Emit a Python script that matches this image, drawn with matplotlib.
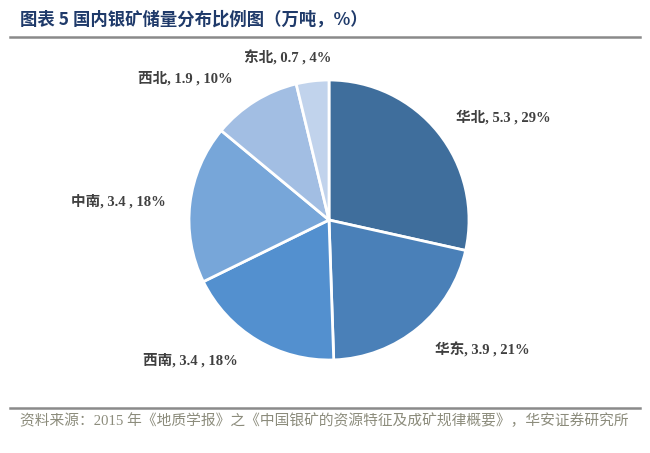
import matplotlib
matplotlib.use("Agg")
import matplotlib.pyplot as plt
from matplotlib.lines import Line2D

regions = ["华北", "华东", "西南", "中南", "西北", "东北"]
reserves = [5.3, 3.9, 3.4, 3.4, 1.9, 0.7]
percents = ["29%", "21%", "18%", "18%", "10%", "4%"]
colors = ["#3f6e9c", "#4a80b8", "#5390cf", "#77a6d9", "#a2bee3", "#c1d3ec"]

title = "图表 5 国内银矿储量分布比例图（万吨，%）"
source = "资料来源：2015 年《地质学报》之《中国银矿的资源特征及成矿规律概要》，华安证券研究所"

W, H = 650, 453
fig = plt.figure(figsize=(W / 100, H / 100), dpi=100)

fam = ["Liberation Serif", "Noto Sans CJK SC"]

# pie axes
cx, cy, r = 329, 220, 140
ax = fig.add_axes([(cx - r) / W, (H - cy - r) / H, 2 * r / W, 2 * r / H])
ax.pie(reserves, colors=colors, startangle=90, counterclock=False,
       wedgeprops=dict(edgecolor="white", linewidth=2), radius=1)
ax.set_xlim(-1, 1)
ax.set_ylim(-1, 1)
ax.set_aspect("equal")
ax.axis("off")

# label positions (pixel centres)
label_pos = [(503, 117), (482, 350), (190, 360), (118, 201), (185, 78), (288, 58)]
for name, val, pct, (px, py) in zip(regions, reserves, percents, label_pos):
    fig.text(px / W, 1 - py / H, f"{name}, {val} , {pct}", ha="center", va="center",
             fontsize=10.5, color="#404040", family=fam, fontweight="bold")

# title and rules
fig.text(20 / W, 1 - 20 / H, title, ha="left", va="center", fontsize=12.5,
         color="#1f3a6a", family=["Noto Sans CJK SC"], fontweight="bold")
fig.add_artist(Line2D([10 / W, 640 / W], [1 - 37 / H, 1 - 37 / H], color="#8a8a8a", linewidth=1.8))
fig.add_artist(Line2D([10 / W, 640 / W], [1 - 408 / H, 1 - 408 / H], color="#8a8a8a", linewidth=1.8))
fig.text(20 / W, 1 - 421 / H, source, ha="left", va="center", fontsize=10.6,
         color="#8c8c7c", family=fam)

fig.savefig("out.png", dpi=100, facecolor="white")
